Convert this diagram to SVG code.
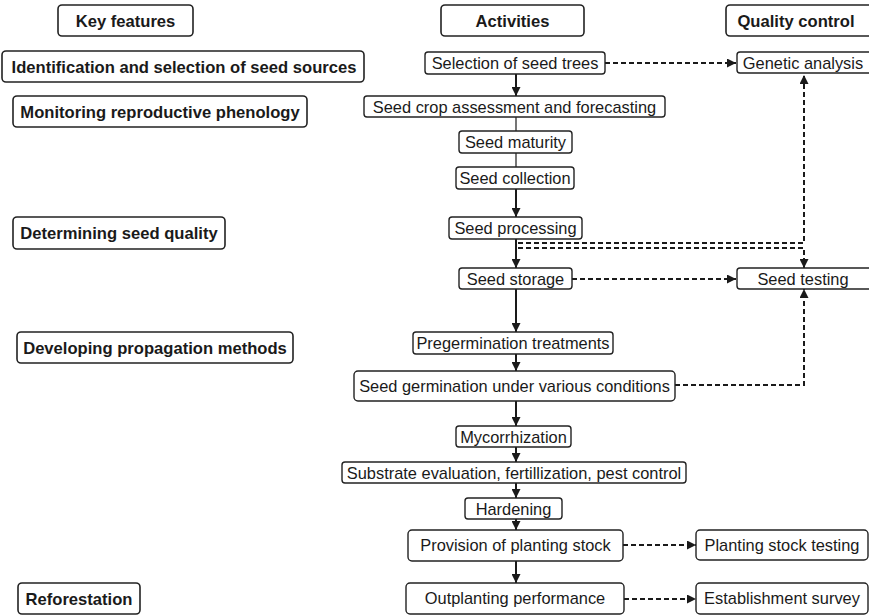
<svg xmlns="http://www.w3.org/2000/svg" width="869" height="615" viewBox="0 0 869 615">
<defs>
<style>
.k rect{fill:#fff;stroke:#222;stroke-width:1.6}
.k text{font-family:"Liberation Sans",Arial,sans-serif;font-weight:bold;font-size:16.6px;fill:#1a1a1a;text-anchor:middle}
.a rect{fill:#fff;stroke:#222;stroke-width:1.4}
.a text{font-family:"Liberation Sans",Arial,sans-serif;font-size:16.4px;fill:#1a1a1a;text-anchor:middle}
.s{fill:none;stroke:#1a1a1a;stroke-width:2}
.t{fill:none;stroke:#1a1a1a;stroke-width:1.2}
.d{fill:none;stroke:#1a1a1a;stroke-width:2;stroke-dasharray:5 3}
</style>
<marker id="ah" viewBox="0 0 10 10" refX="10" refY="5" markerWidth="9" markerHeight="9" markerUnits="userSpaceOnUse" orient="auto">
<path d="M0,0 L10,5 L0,10 z" fill="#1a1a1a"/>
</marker>
</defs>
<rect width="869" height="615" fill="#fff"/>

<g id="connectors">
<path class="s" d="M516,74 V96" marker-end="url(#ah)"/>
<path class="t" d="M516,117 V131"/>
<path class="t" d="M516,153 V167"/>
<path class="s" d="M516,189 V217" marker-end="url(#ah)"/>
<path class="s" d="M516,239 V268" marker-end="url(#ah)"/>
<path class="s" d="M516,289 V332" marker-end="url(#ah)"/>
<path class="s" d="M516,354 V371" marker-end="url(#ah)"/>
<path class="s" d="M516,401 V426" marker-end="url(#ah)"/>
<path class="s" d="M516,447 V462" marker-end="url(#ah)"/>
<path class="s" d="M516,483 V498" marker-end="url(#ah)"/>
<path class="s" d="M516,519 V530" marker-end="url(#ah)"/>
<path class="s" d="M516,561 V583" marker-end="url(#ah)"/>
<path class="d" d="M605,63 H736" marker-end="url(#ah)"/>
<path class="d" d="M518,243 H804 V75" marker-end="url(#ah)"/>
<path class="d" d="M518,248 H804 V268" marker-end="url(#ah)"/>
<path class="d" d="M572,279 H736" marker-end="url(#ah)"/>
<path class="d" d="M675,385 H804 V289" marker-end="url(#ah)"/>
<path class="d" d="M623,545 H696" marker-end="url(#ah)"/>
<path class="d" d="M624,599 H696" marker-end="url(#ah)"/>
</g>

<g id="key-features" class="k"><rect x="58" y="5" width="135" height="31" rx="4"/><text x="125.5" y="26.5">Key features</text></g>
<g id="kf-identification" class="k"><rect x="2" y="51" width="362" height="31" rx="4"/><text x="184" y="72.5">Identification and selection of seed sources</text></g>
<g id="kf-monitoring" class="k"><rect x="13" y="96" width="294" height="31" rx="4"/><text x="160" y="117.5">Monitoring reproductive phenology</text></g>
<g id="kf-determining" class="k"><rect x="13" y="217" width="212" height="32" rx="4"/><text x="119" y="238.5">Determining seed quality</text></g>
<g id="kf-developing" class="k"><rect x="17" y="332" width="276" height="31" rx="4"/><text x="155" y="353.5">Developing propagation methods</text></g>
<g id="kf-reforestation" class="k"><rect x="18" y="583" width="122" height="31" rx="4"/><text x="79" y="604.5">Reforestation</text></g>

<g id="activities" class="k"><rect x="441" y="5" width="143" height="31" rx="4"/><text x="512.5" y="26.5">Activities</text></g>
<g id="quality-control" class="k"><rect x="726" y="5" width="150" height="31" rx="4"/><text x="796" y="26.5">Quality control</text></g>

<g id="selection" class="a"><rect x="425" y="52" width="180" height="22" rx="3"/><text x="515" y="68.5">Selection of seed trees</text></g>
<g id="crop" class="a"><rect x="364" y="96" width="301" height="21" rx="3"/><text x="514.5" y="112.5">Seed crop assessment and forecasting</text></g>
<g id="maturity" class="a"><rect x="459" y="131" width="113" height="22" rx="3"/><text x="515.5" y="147.5">Seed maturity</text></g>
<g id="collection" class="a"><rect x="456" y="167" width="118" height="22" rx="3"/><text x="515" y="183.5">Seed collection</text></g>
<g id="processing" class="a"><rect x="449" y="217" width="133" height="22" rx="3"/><text x="515.5" y="233.5">Seed processing</text></g>
<g id="storage" class="a"><rect x="459" y="268" width="113" height="21" rx="3"/><text x="515.5" y="284.5">Seed storage</text></g>
<g id="pregermination" class="a"><rect x="413" y="332" width="200" height="22" rx="3"/><text x="513" y="348.5">Pregermination treatments</text></g>
<g id="germination" class="a"><rect x="354" y="371" width="321" height="30" rx="4"/><text x="514.5" y="391.5">Seed germination under various conditions</text></g>
<g id="mycorrhization" class="a"><rect x="456" y="426" width="115" height="21" rx="3"/><text x="513.5" y="442.5">Mycorrhization</text></g>
<g id="substrate" class="a"><rect x="342" y="462" width="344" height="21" rx="3"/><text x="514" y="478.5">Substrate evaluation, fertillization, pest control</text></g>
<g id="hardening" class="a"><rect x="465" y="498" width="97" height="21" rx="3"/><text x="513.5" y="514.5">Hardening</text></g>
<g id="provision" class="a"><rect x="408" y="530" width="215" height="31" rx="4"/><text x="515.5" y="551">Provision of planting stock</text></g>
<g id="outplanting" class="a"><rect x="406" y="583" width="218" height="31" rx="4"/><text x="515" y="604">Outplanting performance</text></g>

<g id="genetic" class="a"><rect x="737" y="52" width="140" height="21" rx="3"/><text x="803" y="68.5">Genetic analysis</text></g>
<g id="seed-testing" class="a"><rect x="737" y="268" width="140" height="21" rx="3"/><text x="803" y="284.5">Seed testing</text></g>
<g id="planting-testing" class="a"><rect x="696" y="530" width="172" height="30" rx="4"/><text x="782" y="551">Planting stock testing</text></g>
<g id="establishment" class="a"><rect x="696" y="583" width="172" height="31" rx="4"/><text x="782" y="604">Establishment survey</text></g>
</svg>
